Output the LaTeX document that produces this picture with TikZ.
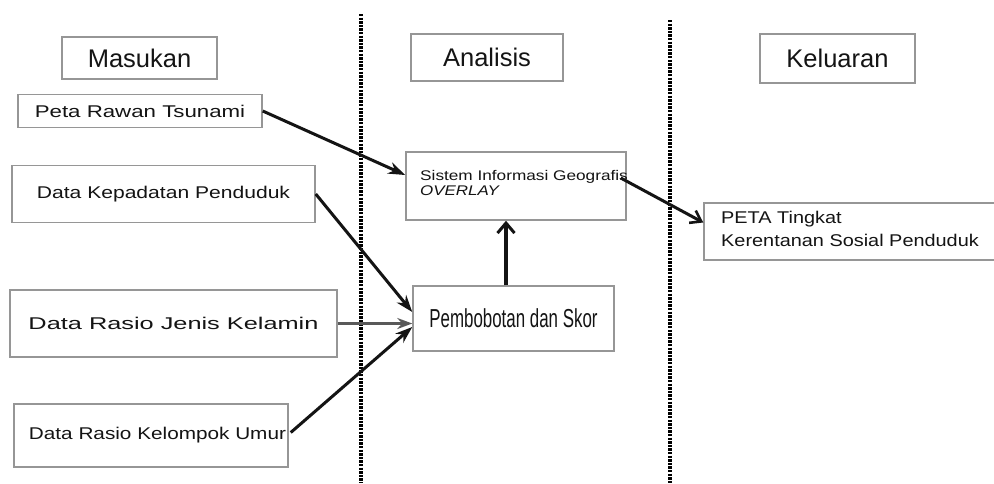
\documentclass[tikz,border=0pt]{standalone}
\usepackage{fontspec}
\setmainfont{Liberation Sans}
\usepackage{graphicx}
\usetikzlibrary{arrows.meta}
\newcommand{\hsx}[2]{\scalebox{#1}[1]{#2}}
\definecolor{boxgray}{RGB}{150,150,150}
\definecolor{inkc}{RGB}{20,20,20}
\tikzset{
  box/.style={draw=boxgray, line width=1.5pt, inner sep=0pt, anchor=center, text=inkc},
  headbox/.style={box, font=\fontsize{25.5}{30}\selectfont},
  inbox/.style={box, font=\fontsize{17}{20}\selectfont},
  sepline/.style={line width=4pt, dash pattern=on 2.4pt off 1.2pt, draw=black},
  arr/.style={draw=inkc, line width=3pt, -{Stealth[length=17pt,width=12pt]}},
  arrthin/.style={draw=black!65, line width=2.2pt, -{Stealth[length=15pt,width=11pt]}},
  arrbarb/.style={draw=inkc, line width=3.6pt, -{Straight Barb[length=10pt,width=17pt,line width=3pt]}},
  arrbarb2/.style={draw=inkc, line width=3pt, -{Straight Barb[length=10pt,width=14pt,line width=2.6pt]}}
}
\begin{document}
\begin{tikzpicture}[x=1pt,y=-1pt]
\useasboundingbox (0,0) rectangle (994,483);
\fill[white] (0,0) rectangle (994,483);
% separators
\draw[sepline] (361,14) -- (361,483);
\draw[sepline] (670,20) -- (670,483);
% headings
\node[headbox, minimum width=155pt, minimum height=42pt] (mas) at (139.5,58) {Masukan};
\node[headbox, minimum width=152pt, minimum height=47pt] (ana) at (487,57.5) {Analisis};
\node[headbox, minimum width=155pt, minimum height=49pt] (kel) at (837.5,58.5) {Keluaran};
% inputs
\node[inbox, minimum width=244pt, minimum height=33pt] (prt) at (140,111) {\hsx{1.31}{Peta Rawan Tsunami}};
\node[inbox, minimum width=303pt, minimum height=57pt] (kep) at (163.5,194) {\hsx{1.24}{Data Kepadatan Penduduk}};
\node[inbox, minimum width=327pt, minimum height=67pt] (jk) at (173.5,323.5) {\hsx{1.49}{Data Rasio Jenis Kelamin}};
\node[inbox, minimum width=274pt, minimum height=63pt] (umur) at (151,435.5) {\makebox[270pt][r]{\raisebox{4pt}{\hsx{1.22}{Data Rasio Kelompok Umur}}}};
% analysis
\node[box, minimum width=220pt, minimum height=68pt] (sig) at (516,186) {};
\node[anchor=north west, inner sep=0pt, text=inkc, font=\fontsize{14}{15.5}\selectfont, align=left] (sigtxt) at (420,170) {\hsx{1.23}{Sistem Informasi Geografis}\\\hsx{1.21}{\itshape OVERLAY}};
\node[box, minimum width=201pt, minimum height=65pt, font=\fontsize{26}{30}\selectfont] (pem) at (513.5,318.5) {\hsx{0.65}{Pembobotan dan Skor}};
% output
\node[box, minimum width=296pt, minimum height=57pt] (out) at (852,231.5) {};
\node[anchor=north west, inner sep=0pt, text=inkc, font=\fontsize{17}{23}\selectfont, align=left] (outtxt) at (721,211) {\hsx{1.17}{PETA Tingkat}\\\hsx{1.17}{Kerentanan Sosial Penduduk}};
% connectors
\draw[arr] (prt.east) -- ([yshift=11pt]sig.west);
\draw[arr] (kep.east) -- ([yshift=6.5pt]pem.west);
\draw[arrthin] (jk.east) -- (jk.east -| pem.west);
\draw[arr] ([xshift=2pt,yshift=3pt]umur.east) -- ([yshift=-8.5pt]pem.west);
\draw[arrbarb] ([xshift=-7.5pt]pem.north) -- ([xshift=-7.5pt]pem.north |- sig.south);
\draw[arrbarb2] ([xshift=-6pt,yshift=8pt]sig.east) -- ([yshift=9pt]out.west);
\end{tikzpicture}
\end{document}
